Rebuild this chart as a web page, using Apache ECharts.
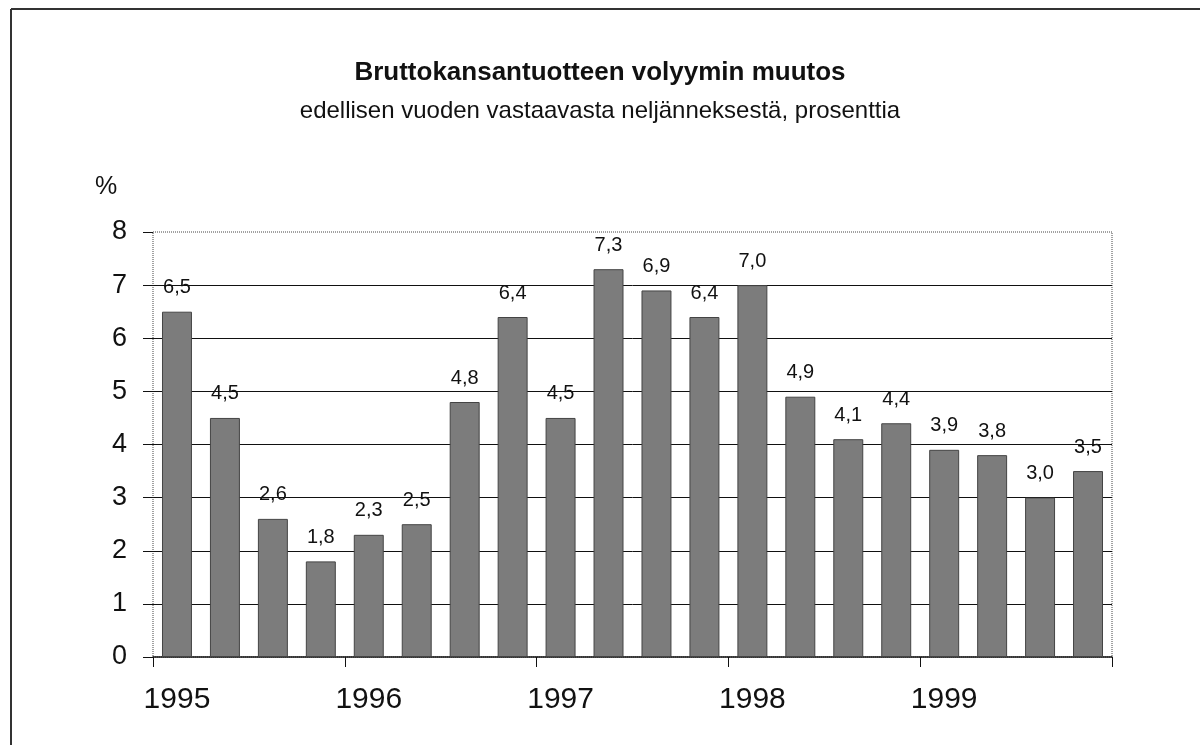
<!DOCTYPE html>
<html><head><meta charset="utf-8">
<script src="https://cdn.jsdelivr.net/npm/echarts@6/dist/echarts.min.js"></script>
<style>html,body{margin:0;padding:0;background:#fff}#c{width:1200px;height:745px}</style>
</head><body><div id="c"></div>
<script>
const quarters = ['1995 I','1995 II','1995 III','1995 IV','1996 I','1996 II','1996 III','1996 IV','1997 I','1997 II','1997 III','1997 IV','1998 I','1998 II','1998 III','1998 IV','1999 I','1999 II','1999 III','1999 IV'];
const values = [6.5,4.5,2.6,1.8,2.3,2.5,4.8,6.4,4.5,7.3,6.9,6.4,7.0,4.9,4.1,4.4,3.9,3.8,3.0,3.5];
const yTicks = [0,1,2,3,4,5,6,7,8];
const titleText = 'Bruttokansantuotteen volyymin muutos';
const subtitleText = 'edellisen vuoden vastaavasta neljänneksestä, prosenttia';
const unitText = '%';

const F = '"Liberation Sans", Arial, sans-serif';
const chart = echarts.init(document.getElementById('c'), null, {renderer:'canvas'});
chart.setOption({
  animation:false,
  backgroundColor:'#fff',
  title:[{
    text:titleText, left:'center', top:55,
    textStyle:{fontFamily:F,fontWeight:'bold',fontSize:26,color:'#111'}
  },{
    text:subtitleText, left:'center', top:94,
    textStyle:{fontFamily:F,fontWeight:'normal',fontSize:24,color:'#111'}
  },{
    text:unitText, left:90, top:170,
    textStyle:{fontFamily:F,fontWeight:'normal',fontSize:25,color:'#111'}
  }],
  graphic:[
    {type:'line',shape:{x1:11,y1:9,x2:1200,y2:9},style:{stroke:'#333',lineWidth:2}},
    {type:'line',shape:{x1:11,y1:9,x2:11,y2:745},style:{stroke:'#333',lineWidth:2}}
  ],
  grid:{left:153,right:88,top:232,bottom:88,show:true,borderColor:'#444',borderWidth:1,borderType:'dotted'},
  xAxis:{
    type:'category', data:quarters,
    axisLine:{show:true,lineStyle:{color:'#111',width:1.5}},
    axisTick:{show:true,interval:3,length:10,lineStyle:{color:'#111'}},
    axisLabel:{interval:3,margin:28,fontFamily:F,fontSize:30,color:'#111',
      formatter:(v)=>v.split(' ')[0]},
    splitLine:{show:false}
  },
  yAxis:{
    type:'value', min:yTicks[0], max:yTicks[yTicks.length-1], interval:1,
    axisLine:{show:false},
    axisTick:{show:true,length:10,lineStyle:{color:'#111'}},
    axisLabel:{margin:26,fontFamily:F,fontSize:27,color:'#111'},
    splitLine:{show:true,lineStyle:{color:['transparent','#111','#111','#111','#111','#111','#111','#111','transparent'],width:1}}
  },
  series:[{
    type:'bar', data:values, barCategoryGap:'37.5%',
    itemStyle:{color:'#7c7c7c',borderColor:'#444',borderWidth:1},
    label:{show:true,position:'top',distance:14,fontFamily:F,fontSize:20,color:'#111',
      formatter:(p)=>p.value.toFixed(1).replace('.',',')}
  }]
});
</script></body></html>
